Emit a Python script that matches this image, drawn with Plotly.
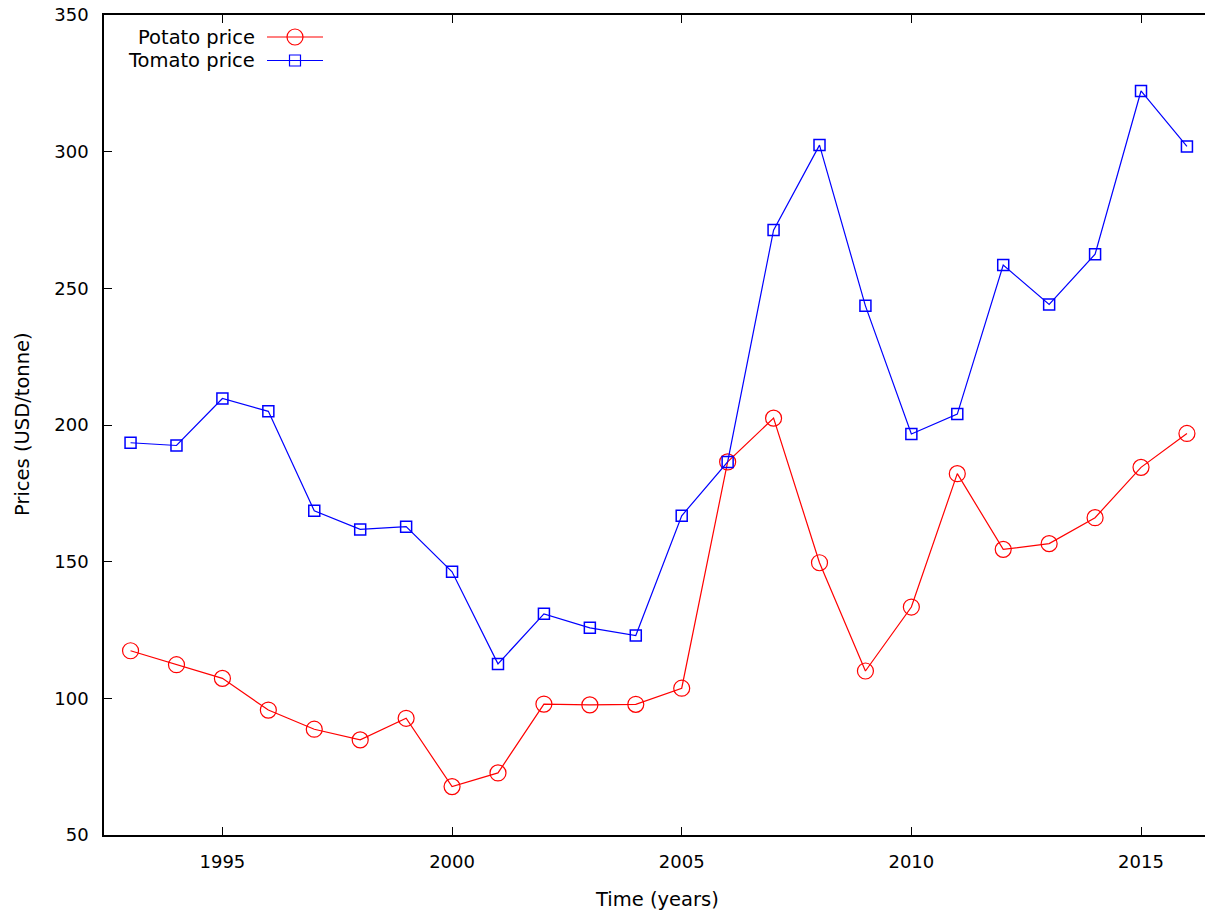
import plotly.graph_objects as go

years = list(range(1993, 2017))
potato = [117.4, 112.3, 107.3, 95.7, 88.7, 84.8, 92.7, 67.7, 72.7, 97.9, 97.6, 97.8,
          103.7, 186.5, 202.5, 149.6, 110.0, 133.4, 182.2, 154.5, 156.6, 166.1, 184.5, 196.9]
tomato = [193.5, 192.5, 209.7, 205.0, 168.6, 161.8, 162.8, 146.3, 112.6, 130.9, 125.8, 123.0,
          166.8, 186.5, 271.3, 302.4, 243.6, 196.7, 204.0, 258.5, 244.1, 262.5, 322.2, 301.9]
x_ticks = [1995, 2000, 2005, 2010, 2015]
y_ticks = [50, 100, 150, 200, 250, 300, 350]

OFF = 0  # body margin removed by post_script
W, H = 1205, 911
# plot area in page pixels: left 104, top 15, bottom 835, right 1205
L = 104 - OFF
T = 15 - OFF
B = 911 - 835
R = 0
PW, PH = W - L - R, H - T - B
FONT = dict(family="DejaVu Sans", size=18, color="black")
TFONT = dict(family="DejaVu Sans", size=19.5, color="black")

def px(x):
    return (x - OFF - L) / PW

def py(y):
    return (H - B - (y - OFF)) / PH

fig = go.Figure()
fig.add_trace(go.Scatter(x=years, y=potato, mode="lines+markers", name="Potato price",
                         line=dict(color="#ff0000", width=1.2),
                         marker=dict(symbol="circle-open", size=16, color="#ff0000",
                                     line=dict(width=1.2, color="#ff0000")),
                         showlegend=False))
fig.add_trace(go.Scatter(x=years, y=tomato, mode="lines+markers", name="Tomato price",
                         line=dict(color="#0000ff", width=1.2),
                         marker=dict(symbol="square-open", size=11, color="#0000ff",
                                     line=dict(width=1.5, color="#0000ff")),
                         showlegend=False))

shapes = []
annotations = []
legend_items = [("Potato price", "#ff0000", "circle", 37, 8), ("Tomato price", "#0000ff", "rect", 60.5, 5.5)]
for label, col, kind, yc, r in legend_items:
    shapes.append(dict(type="line", xref="paper", yref="paper", x0=px(267), x1=px(323),
                       y0=py(yc), y1=py(yc), line=dict(color=col, width=1.2)))
    shapes.append(dict(type=kind, xref="paper", yref="paper", xsizemode="pixel", ysizemode="pixel",
                       xanchor=px(295), yanchor=py(yc), x0=-r, x1=r, y0=-r, y1=r,
                       line=dict(color=col, width=1.2), fillcolor="rgba(0,0,0,0)"))
    annotations.append(dict(text=label, xref="paper", yref="paper", x=px(257), y=py(yc),
                            xanchor="right", yanchor="middle", showarrow=False, font=TFONT))

annotations.append(dict(text="Time (years)", xref="paper", yref="paper", x=px(657), y=py(899),
                        xanchor="center", yanchor="middle", showarrow=False, font=TFONT))
annotations.append(dict(text="Prices (USD/tonne)", xref="paper", yref="paper", x=px(22), y=py(424),
                        xanchor="center", yanchor="middle", textangle=-90, showarrow=False, font=TFONT))

fig.update_layout(
    width=W, height=H,
    margin=dict(l=L, r=R, t=T, b=B, autoexpand=False),
    paper_bgcolor="white", plot_bgcolor="white",
    font=FONT,
    hovermode=False,
    shapes=shapes, annotations=annotations,
    xaxis=dict(range=[1992.422, 1992.422 + PW / 45.93], tickvals=x_ticks,
               ticktext=[str(v) for v in x_ticks], automargin=False,
               showgrid=False, zeroline=False, showline=True, linecolor="black", linewidth=1.5,
               mirror="ticks", ticks="inside", ticklen=8, tickcolor="black", tickwidth=1,
               ticklabelstandoff=10),
    yaxis=dict(range=[50, 350], tickvals=y_ticks, ticktext=[str(v) for v in y_ticks],
               automargin=False,
               showgrid=False, zeroline=False, showline=True, linecolor="black", linewidth=1.5,
               ticks="inside", ticklen=8, tickcolor="black", tickwidth=1,
               ticklabelstandoff=10, ticklabeloverflow="allow"),
)

fig.write_html("out.html", config={"displayModeBar": False},
               post_script="document.body.style.margin='0';document.body.style.overflow='hidden';")
